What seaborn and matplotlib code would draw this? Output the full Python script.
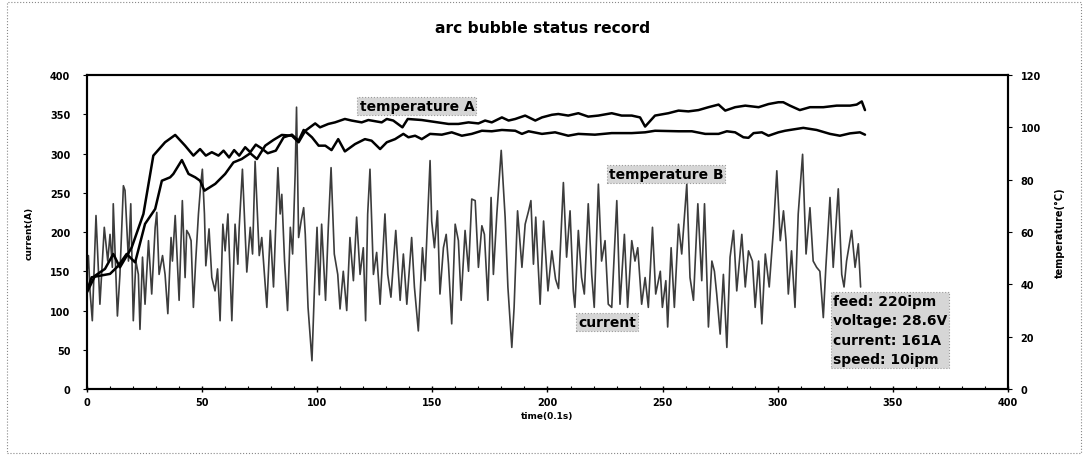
import matplotlib
matplotlib.use("Agg")
import matplotlib.pyplot as plt
import seaborn as sns
import pandas as pd
from matplotlib.patches import Rectangle
from matplotlib.ticker import MultipleLocator

# ---------------- data ----------------
current_t = [0, 0.6, 1.3, 2.3, 3.9, 5.6, 7.5, 9.0, 10.0, 11.0, 11.4, 13.2, 14.3, 15.8, 16.5, 18.0, 19.0,
             20.1, 21.2, 22.3, 23.0, 24.1, 25.2, 26.7, 28.1, 29.6, 30.3, 31.3, 32.8, 33.9, 35.1, 36.5,
             37.1, 38.3, 40.0, 41.4, 42.6, 43.3, 44.3, 45.2, 46.2, 47.2, 48.4, 49.4, 50.1, 51.0, 51.6,
             53.0, 54.2, 55.6, 56.7, 57.8, 59.0, 60.0, 61.2, 62.9, 64.3, 65.5, 66.1, 67.5, 69.4, 70.9,
             71.9, 73.0, 74.8, 75.9, 78.1, 79.6, 81.0, 82.9, 83.9, 84.6, 85.8, 87.1, 88.3, 89.3, 90.4,
             91.0, 91.9, 93.0, 94.1, 94.8, 96.0, 97.7, 98.8, 99.9, 100.9,
             101.9, 103.6, 104.8, 106.0, 107.4, 108.9, 109.9, 111.3, 112.8, 114.2, 115.7, 117.1, 118.6,
             120.0, 121.0, 121.9, 122.9, 124.4, 125.8, 127.3, 129.4, 130.6, 132.0, 134.1, 136.0, 137.4,
             138.9, 141.0, 142.2, 143.9, 145.7, 146.8, 149.0, 149.7, 150.9, 152.2, 153.3, 154.8, 156.0,
             157.0, 158.4, 159.9, 161.3, 162.5, 164.2, 165.7, 167.1, 168.6, 170.0, 171.5, 172.6, 174.1,
             175.5, 176.5, 178.0, 179.9, 181.6, 182.8, 184.5, 185.5, 187.0, 188.9, 190.3, 191.8, 192.8,
             193.9, 194.9, 196.8, 198.3, 200.2, 201.9,
             203.5, 204.8, 206.9, 208.3, 209.8, 211.2, 211.9, 213.4, 214.8, 216.0, 217.7, 219.2, 220.3,
             222.1, 223.5, 225.0, 226.4, 227.9, 230.1, 231.5, 233.4, 234.8, 236.6, 238.0, 239.2, 240.9,
             242.4, 243.8, 245.6, 247.0, 249.0, 249.9, 251.4, 252.2, 253.7, 255.1, 256.9, 258.3, 260.5,
             261.9, 263.4, 265.3, 267.0, 268.2, 269.9, 271.4, 272.5, 273.5, 275.0, 276.4, 277.9, 279.3,
             280.8, 282.2, 284.4, 285.9, 287.3, 289.0, 290.2, 291.7, 293.1, 294.6, 296.3, 298.2, 299.6,
             301.1, 302.5,
             303.6, 304.6, 306.0, 307.5, 308.9, 310.8, 312.3, 314.0, 315.4, 316.9, 318.3, 319.8, 320.9,
             322.7, 324.1, 326.3, 327.8, 328.8, 329.9, 332.1, 333.6, 335.0, 336.0]
current_a = [150, 170, 125, 87, 221, 108, 206, 163, 197, 155, 236, 93, 146, 259, 253, 163, 236,
             87, 163, 146, 76, 168, 108, 189, 121, 206, 225, 146, 170, 146, 96, 193,
             163, 221, 113, 240, 142, 202, 197, 189, 104, 163, 223, 261, 280, 223, 157,
             204, 142, 125, 153, 87, 210, 176, 223, 87, 210, 159, 206, 280, 149, 206,
             172, 290, 170, 193, 104, 202, 130, 282, 223, 248, 163, 100, 206, 172, 274,
             359, 193, 214, 231, 197, 104, 36, 130, 206, 120,
             210, 113, 206, 282, 172, 146, 102, 150, 100, 193, 138, 219, 146,
             180, 87, 223, 280, 146, 174, 108, 223, 146, 117, 202, 113, 172,
             108, 193, 130, 74, 180, 138, 291, 214, 180, 227, 121, 180, 197,
             159, 83, 210, 189, 113, 202, 150, 242, 240, 155, 208, 197, 113,
             244, 146, 223, 304, 219, 130, 53, 104, 227, 155, 210, 227, 240,
             159, 219, 108, 214, 125, 176,
             140, 128, 263, 168, 227, 125, 104, 202, 142, 121, 236, 146, 104,
             261, 163, 189, 108, 104, 240, 108, 197, 104, 189, 163, 180, 108,
             142, 104, 206, 121, 150, 104, 138, 79, 180, 104, 210, 172, 261,
             142, 113, 236, 138, 236, 79, 163, 150, 121, 70, 146, 53, 168,
             202, 125, 197, 130, 176, 163, 104, 163, 83, 172, 130, 206, 278,
             189, 227,
             189, 121, 176, 104, 223, 299, 172, 231, 163, 155, 150, 91, 155,
             244, 155, 255, 146, 130, 163, 202, 155, 185, 130]

tempA_t = [0, 2.0, 5.6, 10.0, 13.6, 17.2, 20.9, 25.2, 29.6, 32.5, 36.1, 37.5, 41.2, 44.1, 47.0, 49.1,
           51.0, 55.7, 60.0, 63.6, 67.2, 70.9, 73.8, 77.4, 81.0, 84.6, 89.0, 91.9, 94.8, 99.1, 101.2,
           104.8, 107.7, 112.0, 114.9, 119.3, 122.2, 128.0, 130.2, 133.0, 137.0, 139.3, 145.4, 157.0,
           161.3, 165.7, 170.0, 172.9, 175.8, 180.2, 183.1, 186.0, 190.3, 194.7, 197.6, 201.9, 204.7,
           209.0, 213.4, 217.7, 222.1, 227.9, 232.2, 236.6, 240.2, 242.4, 246.7, 252.5, 256.9, 261.2,
           265.6, 269.9, 274.3, 277.2, 281.5, 285.9, 291.7, 296.0, 300.3, 302.4, 305.3, 309.6, 314.0,
           319.8, 325.6, 331.4, 334.3, 336.5, 337.9]
tempA_c = [37.6, 42.7, 43.3, 44.0, 47.1, 51.6, 48.4, 63.1, 68.8, 79.6, 80.9, 82.2, 87.5, 82.2, 80.9, 79.6,
           75.8, 78.4, 82.2, 86.6, 87.9, 90.1, 87.9, 93.0, 95.2, 97.1, 96.8, 94.3, 98.7, 101.5, 100.0,
           101.3, 101.9, 103.2, 102.6, 101.9, 102.8, 101.9, 103.2, 102.6, 100.0, 103.2, 102.8, 101.3,
           101.3, 101.9, 101.5, 102.6, 101.9, 103.8, 102.6, 103.2, 104.5, 102.6, 103.8, 104.8, 105.1,
           104.5, 105.4, 104.1, 104.5, 105.4, 104.5, 104.5, 103.8, 100.3, 104.5, 105.4, 106.4, 106.1,
           106.6, 107.7, 108.7, 106.4, 107.7, 108.3, 107.7, 108.9, 109.6, 109.6, 108.3, 106.6, 107.7,
           107.7, 108.3, 108.3, 108.7, 109.9, 106.6]

tempB_t = [0, 3.5, 7.8, 11.4, 14.3, 19.4, 24.5, 28.8, 33.9, 38.3, 42.6, 46.2, 49.1, 51.6, 54.2, 57.1,
           59.3, 61.7, 63.9, 66.1, 68.7, 70.9, 73.3, 75.6, 78.5, 82.0, 85.4, 89.0, 91.9, 94.1, 97.7,
           100.6, 103.5, 106.2, 109.1, 112.0, 116.4, 120.7, 123.6, 127.3, 130.2, 133.8, 137.4, 139.6,
           142.5, 145.4, 149.0, 154.1, 158.4, 162.8, 167.1, 171.5, 175.8, 180.2, 186.0, 188.9, 191.8,
           197.6, 203.3, 209.0, 213.4, 220.6, 227.9, 236.6, 242.4, 246.7, 257.0, 262.7, 268.5, 274.3,
           277.9, 281.5, 285.1, 287.3, 289.5, 293.1, 296.0, 300.3, 303.2, 305.3, 311.1, 316.9, 322.7,
           327.0, 331.4, 335.7, 337.9]
tempB_c = [37.0, 43.3, 45.9, 51.6, 46.5, 54.1, 66.9, 89.2, 94.3, 97.1, 93.0, 89.2, 91.7, 89.2, 90.5, 89.2,
           91.1, 88.5, 91.3, 89.2, 92.4, 90.5, 93.4, 92.1, 90.1, 91.1, 96.2, 97.2, 94.9, 99.0, 96.2,
           93.0, 93.0, 91.3, 95.5, 90.8, 93.6, 95.5, 94.9, 91.7, 94.3, 95.5, 97.5, 96.2,
           96.8, 95.5, 97.5, 97.2, 98.1, 96.8, 97.5, 98.7, 98.5, 99.0, 98.7, 97.5, 98.5,
           97.5, 98.1, 96.8, 97.5, 97.2, 97.8, 97.8, 98.1, 98.7, 98.5, 98.5, 97.5, 97.5,
           98.5, 98.1, 96.2, 96.0, 97.8, 98.1, 96.8, 98.1, 98.7, 99.0, 99.8, 99.0, 97.5,
           96.8, 97.7, 98.1, 97.2]

x_ticks = [0, 50, 100, 150, 200, 250, 300, 350, 400]
left_ticks = [0, 50, 100, 150, 200, 250, 300, 350, 400]
right_ticks = [0, 20, 40, 60, 80, 100, 120]

title_text = "arc bubble status record"
xlabel_text = "time(0.1s)"
ylabel_left = "current(A)"
ylabel_right = "temperature(\u00b0C)"
info_text = "feed: 220ipm\nvoltage: 28.6V\ncurrent: 161A\nspeed: 10ipm"

# ---------------- style ----------------
sns.set_style("ticks")
plt.rcParams["font.family"] = ["DejaVu Sans"]
plt.rcParams["font.weight"] = "bold"
plt.rcParams["text.color"] = "black"
plt.rcParams["axes.labelcolor"] = "black"
plt.rcParams["xtick.color"] = "black"
plt.rcParams["ytick.color"] = "black"

fig = plt.figure(figsize=(10.85, 4.56), dpi=100)
ax = fig.add_axes([0.0802, 0.1447, 0.8488, 0.6886])
ax2 = ax.twinx()

df_cur = pd.DataFrame({"t": current_t, "a": current_a})
df_A = pd.DataFrame({"t": tempA_t, "c": tempA_c})
df_B = pd.DataFrame({"t": tempB_t, "c": tempB_c})

sns.lineplot(data=df_cur, x="t", y="a", ax=ax, color="#3c3c3c", linewidth=1.2,
             estimator=None, sort=False, legend=False)
sns.lineplot(data=df_A, x="t", y="c", ax=ax2, color="black", linewidth=1.8,
             estimator=None, sort=False, legend=False)
sns.lineplot(data=df_B, x="t", y="c", ax=ax2, color="black", linewidth=1.8,
             estimator=None, sort=False, legend=False)

ax.set_xlim(0, 400)
ax.set_ylim(0, 400)
ax2.set_ylim(0, 120)
ax.set_xticks(x_ticks)
ax.set_yticks(left_ticks)
ax2.set_yticks(right_ticks)
ax.xaxis.set_minor_locator(MultipleLocator(10))

lab_font = dict(fontsize=7, fontweight="bold", color="black")
ax.set_xticklabels([str(v) for v in x_ticks], **lab_font)
ax.set_yticklabels([str(v) for v in left_ticks], **lab_font)
ax2.set_yticklabels([str(v) for v in right_ticks], **lab_font)

ax.set_xlabel(xlabel_text, fontsize=6.5, fontweight="bold", labelpad=3, color="black")
ax.set_ylabel(ylabel_left, fontsize=6.5, fontweight="bold", labelpad=12, color="black")
ax2.set_ylabel(ylabel_right, fontsize=7, fontweight="bold", labelpad=10, color="black")

for a in (ax, ax2):
    for s in a.spines.values():
        s.set_linewidth(1.5)
        s.set_color("black")
ax.tick_params(axis="x", which="major", direction="inout", length=5, width=1, pad=3)
ax.tick_params(axis="x", which="minor", direction="in", length=2.5, width=0.8)
ax.tick_params(axis="y", direction="out", length=3, width=0.8, pad=9)
ax2.tick_params(axis="y", direction="out", length=3, width=0.8, pad=6)

fig.text(0.5, 0.937, title_text, ha="center", va="center", fontsize=11.2,
         fontweight="bold", color="black")

box = dict(boxstyle="square,pad=0.15", facecolor="#d6d6d6", edgecolor="#9a9a9a",
           linewidth=0.8, linestyle=":")
ann_font = dict(fontsize=10, fontweight="bold", zorder=10, color="black")
ax2.text(143.3, 360, "temperature A", transform=ax.transData, ha="center", va="center",
         bbox=box, **ann_font)
ax2.text(251.5, 274, "temperature B", transform=ax.transData, ha="center", va="center",
         bbox=box, **ann_font)
ax2.text(226, 85, "current", transform=ax.transData, ha="center", va="center",
         bbox=box, **ann_font)
ax2.text(324, 75, info_text, transform=ax.transData, ha="left", va="center",
         bbox=box, linespacing=1.5, **ann_font)

fig.patches.append(Rectangle((0.006, 0.004), 0.99, 0.99, transform=fig.transFigure,
                             fill=False, edgecolor="#888888", linewidth=0.8, linestyle=":"))

fig.savefig("out.png", dpi=100)
